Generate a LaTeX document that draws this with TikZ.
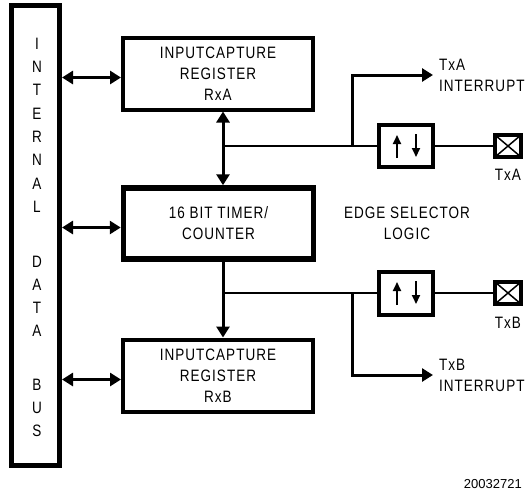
\documentclass[tikz,border=0pt]{standalone}
\usepackage{fontspec}
\setmainfont{Liberation Sans}[FakeStretch=0.82,LetterSpace=6]
\newfontfamily\numfont{Liberation Sans}
\usetikzlibrary{positioning}
\usetikzlibrary{arrows.meta}
\newcommand\diagfont{\fontsize{16.5}{21}\selectfont}

\begin{document}
\begin{tikzpicture}[x=1pt,y=-1pt,font=\diagfont]
    \tikzset{block/.style={shape=rectangle,draw,line width=4pt,minimum width=190pt,minimum height=72pt,align=center,inner sep=0pt}}
    \tikzset{edgebox/.style={shape=rectangle,draw,line width=4pt,minimum width=54pt,minimum height=42pt}}
    \tikzset{pad/.style={shape=rectangle,draw,line width=4pt,minimum width=26pt,minimum height=22pt,
        path picture={\draw[line width=1.5pt] (path picture bounding box.north west) -- (path picture bounding box.south east)
        (path picture bounding box.south west) -- (path picture bounding box.north east);}}}
    \tikzset{wire/.style={line width=2.5pt}}
    \tikzset{conn/.style={line width=3pt}}
    \tikzset{tip/.style={-{Triangle[width=13pt,length=11pt]}}}
    \tikzset{both/.style={{Triangle[width=13pt,length=11pt]}-{Triangle[width=13pt,length=11pt]}}}
    \tikzset{small/.style={line width=2pt,-{Triangle[width=8pt,length=9pt]}}}
    \useasboundingbox (0,0) rectangle (527,493);

    % bus and blocks
    \node[draw,line width=5pt,minimum width=48.5pt,minimum height=460pt] (bus) at (35.25,235.5) {};
    \node[block] (regA) at (218,73.5) {INPUTCAPTURE\\REGISTER\\RxA};
    \node[block,line width=5.5pt,minimum height=71pt] (timer) at (218.5,223.5) {16 BIT TIMER/\\COUNTER};
    \node[block] (regB) at (218,375.5) {INPUTCAPTURE\\REGISTER\\RxB};

    \foreach \ch/\y [count=\i] in {I/44,N/67,T/90,E/114,R/137,N/160,A/184,L/207,D/262,A/285,T/308,A/331,B/385,U/408,S/431}
        \node[inner sep=0pt] (letter\i) at (37,\y) {\ch};

    % edge selector logic
    \node[edgebox] (edgeA) at (406,146) {};
    \node[edgebox,minimum height=43pt] (edgeB) at (406,293) {};
    \node[pad] (padA) at (508,146) {};
    \node[pad] (padB) at (508,293) {};
    \node[inner sep=0pt,below=10pt of padA] (txA) {TxA};
    \node[inner sep=0pt,below=11pt of padB] (txB) {TxB};
    \node[align=center] (esl) at (407,223.5) {EDGE SELECTOR\\LOGIC};

    \coordinate (tapA) at (223,146);
    \coordinate (tapB) at (223,293);
    \coordinate (brA) at (352,146);
    \coordinate (brB) at (352,293);
    \coordinate (intA) at (433,75);
    \coordinate (intB) at (433,375);
    \node[align=left,inner sep=0pt,right=6pt of intA] (intAlbl) {TxA\\INTERRUPT};
    \node[align=left,inner sep=0pt,right=6pt of intB] (intBlbl) {TxB\\INTERRUPT};

    % connectors
    \draw[conn,both] ([yshift=-4pt]regA.west -| bus.east) -- ([yshift=-4pt]regA.west);
    \draw[conn,both] ([yshift=-4pt]timer.west -| bus.east) -- ([yshift=-4pt]timer.west);
    \draw[conn,both] ([yshift=-4pt]regB.west -| bus.east) -- ([yshift=-4pt]regB.west);
    \draw[conn,both] (regA.south -| tapA) -- (timer.north -| tapA);
    \draw[conn,tip] (timer.south -| tapB) -- (regB.north -| tapB);
    \draw[wire] (tapA) -- (edgeA.west);
    \draw[wire] (tapB) -- (edgeB.west);
    \draw[wire] (edgeA.east) -- (padA.west);
    \draw[wire] (edgeB.east) -- (padB.west);
    \draw[conn,tip] (brA) |- (intA);
    \draw[conn,tip] (brB) |- (intB);

    % edge symbols
    \draw[small] ([shift={(-9pt,-12pt)}]edgeA.center) -- ([shift={(-9pt,11pt)}]edgeA.center);
    \draw[small] ([shift={(10pt,12pt)}]edgeA.center) -- ([shift={(10pt,-11pt)}]edgeA.center);
    \draw[small] ([shift={(-9pt,-12pt)}]edgeB.center) -- ([shift={(-9pt,11pt)}]edgeB.center);
    \draw[small] ([shift={(10pt,12pt)}]edgeB.center) -- ([shift={(10pt,-11pt)}]edgeB.center);

    \node[anchor=east,inner sep=0pt,font=\numfont\fontsize{13}{15}\selectfont] (fignum) at (522,484) {20032721};
\end{tikzpicture}
\end{document}
